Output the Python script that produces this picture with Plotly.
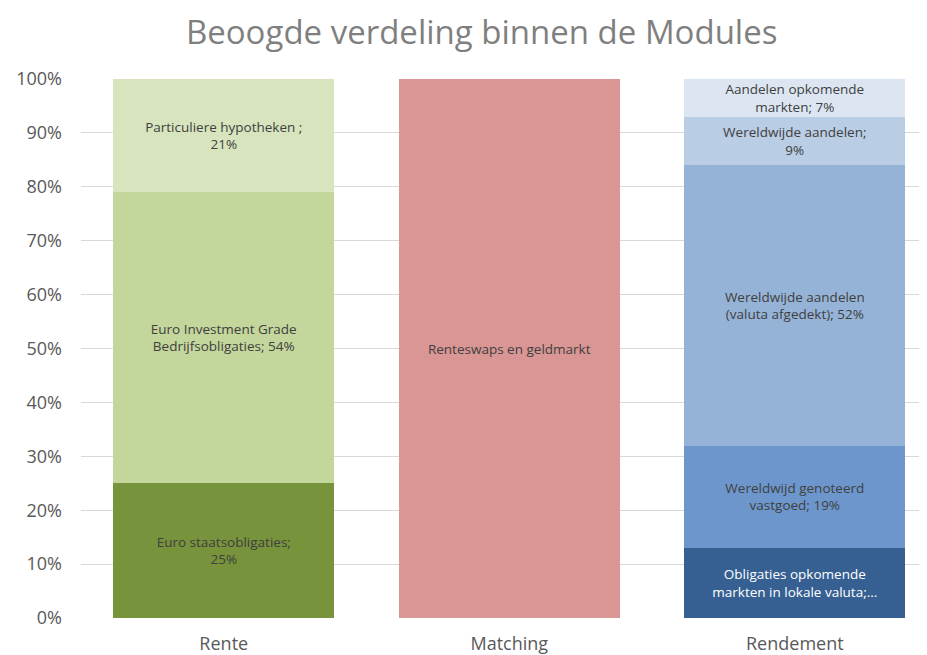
import plotly.graph_objects as go

categories = ["Rente", "Matching", "Rendement"]

# segments: (category, value, label, color, text color)
seg_category = ["Rente", "Rente", "Rente", "Matching",
                "Rendement", "Rendement", "Rendement", "Rendement", "Rendement"]
seg_values = [0.25, 0.54, 0.21, 1.00, 0.13, 0.19, 0.52, 0.09, 0.07]
seg_labels = [
    "Euro staatsobligaties;<br>25%",
    "Euro Investment Grade<br>Bedrijfsobligaties; 54%",
    "Particuliere hypotheken ;<br>21%",
    "Renteswaps en geldmarkt",
    "Obligaties opkomende<br>markten in lokale valuta;...",
    "Wereldwijd genoteerd<br>vastgoed; 19%",
    "Wereldwijde aandelen<br>(valuta afgedekt); 52%",
    "Wereldwijde aandelen;<br>9%",
    "Aandelen opkomende<br>markten; 7%",
]
seg_colors = ["#77933C", "#C3D69B", "#D7E4BD", "#D99694",
              "#376092", "#6D97CC", "#95B3D7", "#B9CDE5", "#DCE6F2"]
seg_textcolors = ["#404040", "#404040", "#404040", "#404040",
                  "#FFFFFF", "#404040", "#404040", "#404040", "#404040"]

y_ticks = [i / 10 for i in range(11)]

fig = go.Figure()
for cat, v, lab, col, tc in zip(seg_category, seg_values, seg_labels, seg_colors, seg_textcolors):
    fig.add_trace(go.Bar(
        x=[cat], y=[v], text=[lab], textposition="inside",
        insidetextanchor="middle", textangle=0,
        textfont=dict(size=13.5, color=tc, family="Open Sans"),
        marker=dict(color=col, line=dict(width=0)),
        showlegend=False, hoverinfo="skip",
    ))

fig.update_layout(
    barmode="stack",
    bargap=0.227,
    width=927, height=655,
    margin=dict(l=69, r=8, t=71, b=44),
    paper_bgcolor="white", plot_bgcolor="white",
    title=dict(text="Beoogde verdeling binnen de Modules", x=0.511, xanchor="center",
               xref="container", y=0.962, yanchor="middle",
               font=dict(size=33, color="#7F7F7F", family="Open Sans")),
    uniformtext=dict(minsize=13.5, mode="show"),
    font=dict(family="Open Sans", color="#595959"),
)
fig.update_xaxes(categoryorder="array", categoryarray=categories,
                 range=[-0.5, 2.463], showline=False, ticks="",
                 ticklabelstandoff=13,
                 tickfont=dict(size=18, color="#595959"))
fig.update_yaxes(range=[0, 1], tickvals=y_ticks, tickformat=".0%",
                 showgrid=True, gridcolor="#D9D9D9", gridwidth=1,
                 zeroline=False, showline=False, ticks="",
                 ticklabelstandoff=18,
                 tickfont=dict(size=18, color="#595959"))

fig.write_html("out.html")
